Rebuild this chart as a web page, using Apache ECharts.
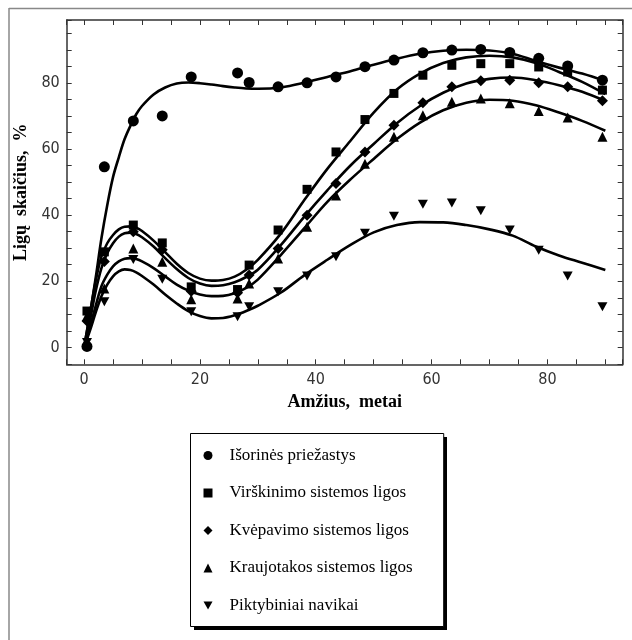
<!DOCTYPE html>
<html>
<head>
<meta charset="utf-8">
<script src="https://cdn.jsdelivr.net/npm/echarts@6/dist/echarts.min.js"></script>
<style>
html,body{margin:0;padding:0;background:#fff;}
#chart{width:632px;height:640px;}
</style>
</head>
<body>
<div id="chart"></div>
<script>
// ---- data ----
var seriesNames = ['Išorinės priežastys', 'Virškinimo sistemos ligos', 'Kvėpavimo sistemos ligos', 'Kraujotakos sistemos ligos', 'Piktybiniai navikai'];
var ages = [0.5, 3.5, 8.5, 13.5, 18.5, 26.5, 28.5, 33.5, 38.5, 43.5, 48.5, 53.5, 58.5, 63.5, 68.5, 73.5, 78.5, 83.5, 89.5];
var isorines   = [0.3, 54.6, 68.5, 70.0, 81.8, 83.0, 80.1, 78.8, 80.0, 81.8, 84.9, 86.9, 89.1, 89.9, 90.1, 89.2, 87.4, 85.1, 80.8];
var virskinimo = [11.0, 28.9, 37.0, 31.6, 18.3, 17.5, 24.9, 35.5, 47.8, 59.1, 68.9, 76.8, 82.3, 85.3, 85.8, 85.8, 84.8, 83.3, 77.8];
var kvepavimo  = [8.0, 26.0, 35.0, 29.5, 17.0, 16.5, 21.9, 29.9, 40.0, 49.6, 59.1, 67.2, 74.0, 78.8, 80.6, 80.8, 80.0, 78.8, 74.6];
var kraujotakos= [9.5, 17.8, 29.9, 25.9, 14.6, 14.8, 19.3, 26.9, 36.5, 45.9, 55.5, 63.7, 70.2, 74.3, 75.3, 73.8, 71.5, 69.5, 63.7];
var navikai    = [1.5, 13.8, 26.6, 20.6, 10.8, 9.3, 12.3, 16.8, 21.6, 27.4, 34.5, 39.7, 43.3, 43.7, 41.3, 35.5, 29.4, 21.6, 12.3];

// fitted curves
var fitAges = [0,1,2,3,4,5,6,7,8,9,10,12,14,16,18,20,22,24,26,28,30,34,38,42,46,50,54,58,62,66,70,74,78,82,86,90];
var fitIsorines   = [0,10,21,33,43,51.5,57.5,63,67,70.5,73,76.5,78.6,79.8,80.1,79.9,79.5,79,78.6,78.3,78.2,78.6,80,81.8,83.5,85.5,87.3,88.8,89.7,90,89.8,88.8,86.6,84.6,82.8,80.5];
var fitVirskinimo = [0,10,20,27.5,31.5,34,35.7,36.5,36.6,36.2,35.2,32.3,28.8,25.3,22.5,20.8,20.2,20.4,21.4,23.5,26.5,34.5,44.5,54,62.5,71,78,82.8,86,87.7,88.2,87.7,86,83.3,80.3,76.6];
var fitKvepavimo  = [0,8,17,24,28.5,31.5,33.5,34.5,34.7,34.3,33.3,30.5,27,23.7,21,19.3,18.6,18.8,19.7,21.3,23.5,31,39.5,47.5,55,61.5,67.8,73,77,79.8,81.2,81.6,80.8,79.3,77.3,74.5];
var fitKraujotakos= [0,6,12.5,18.5,22,24.5,26,26.8,27,26.7,26,24,21.5,19,17.2,16,15.5,15.6,16.4,18,20.5,28,36,44,50.8,57,63,68,71.7,74,74.9,74.6,73.2,71,68.5,65.5];
var fitNavikai    = [0,5,10.5,15.5,19,21.5,23,23.6,23.4,22.7,21.6,19,16,13.3,11,9.5,8.8,8.9,9.7,11,12.6,16.6,21.8,26.5,31,34.8,37,37.9,37.8,37,35.7,33.8,30.5,27.8,25.6,23.4];

var xTitle = 'Amžius,  metai';
var yTitle = 'Ligų  skaičius,  %';

// ---- build ----
function pairs(xs, ys){ return xs.map(function(x,i){ return [x, ys[i]]; }); }
var markerVals = [isorines, virskinimo, kvepavimo, kraujotakos, navikai];
var fitVals = [fitIsorines, fitVirskinimo, fitKvepavimo, fitKraujotakos, fitNavikai];
var downTri = 'path://M0,0L10,0L5,9Z';
var symbols = ['circle','rect','diamond','triangle', downTri];
var symSizes = [11, 9, 11, 10, [10, 9]];
var legendIcons = ['circle','rect','diamond','triangle', downTri];

var tickFont = "'Liberation Sans Narrow','DejaVu Sans Condensed','Liberation Sans',sans-serif";
var serif = "'Liberation Serif','Times New Roman',serif";

function fmt(v){ return (Math.abs(v % 20) < 1e-9) ? String(v) : ''; }
function xAxisCfg(pos, showLabel){
  return {
    type:'value', position:pos, min:-3, max:93, splitNumber:5,
    name: showLabel ? xTitle : '', nameLocation:'middle', nameGap:25,
    nameTextStyle:{fontFamily:serif, fontSize:18, fontWeight:'bold', color:'#000'},
    axisLine:{show:true, onZero:false, lineStyle:{color:'#333', width:1.5}},
    axisTick:{show:true, inside:true, length:5, lineStyle:{color:'#333', width:1}},
    minorTick:{show:true, splitNumber:4, length:5, lineStyle:{color:'#333', width:1}},
    splitLine:{show:false},
    axisLabel:{show:showLabel, margin:8, fontFamily:tickFont, fontSize:16, color:'#333', formatter:fmt}
  };
}
function yAxisCfg(pos, showLabel){
  return {
    type:'value', position:pos, min:-5.1, max:99, splitNumber:5,
    name: showLabel ? yTitle : '', nameLocation:'middle', nameGap:35, nameRotate:90,
    nameTextStyle:{fontFamily:serif, fontSize:18, fontWeight:'bold', color:'#000'},
    axisLine:{show:true, onZero:false, lineStyle:{color:'#333', width:1.5}},
    axisTick:{show:true, inside:true, length:5, lineStyle:{color:'#333', width:1}},
    minorTick:{show:true, splitNumber:4, length:5, lineStyle:{color:'#333', width:1}},
    splitLine:{show:false},
    axisLabel:{show:showLabel, margin:7, fontFamily:tickFont, fontSize:16, color:'#333', formatter:fmt}
  };
}

var series = [];
for (var i=0;i<5;i++){
  series.push({
    type:'line', name:'fit'+i, data:pairs(fitAges, fitVals[i]),
    smooth:0.35, showSymbol:false, symbol:'none', silent:true, z:2,
    lineStyle:{color:'#000', width:2.6}
  });
}
for (var j=0;j<5;j++){
  series.push({
    type:'scatter', name:seriesNames[j], data:pairs(ages, markerVals[j]),
    symbol:symbols[j], symbolSize:symSizes[j], z:3, silent:true,
    itemStyle:{color:'#000', opacity:1}
  });
}

var chart = echarts.init(document.getElementById('chart'), null, {renderer:'canvas'});
chart.setOption({
  animation:false,
  backgroundColor:'#fff',
  grid:{left:66.7, top:20, right:9.3, bottom:275.7, containLabel:false},
  xAxis:[xAxisCfg('bottom', true), xAxisCfg('top', false)],
  yAxis:[yAxisCfg('left', true), yAxisCfg('right', false)],
  legend:{
    data:seriesNames.map(function(n,k){ return {name:n, icon:legendIcons[k]}; }),
    orient:'vertical', left:190.5, top:433.5, z:5,
    padding:[13, 31, 12, 13], itemWidth:9, itemHeight:9, itemGap:19.5,
    selectedMode:false,
    itemStyle:{color:'#000', opacity:1},
    textStyle:{fontFamily:serif, fontSize:17, lineHeight:18, color:'#000', padding:[0,0,0,12]},
    backgroundColor:'#fff', borderColor:'#000', borderWidth:1
  },
  graphic:[
    {type:'line', shape:{x1:9, y1:8.5, x2:632, y2:8.5}, style:{stroke:'#888', lineWidth:1.5}, silent:true},
    {type:'line', shape:{x1:9, y1:8, x2:9, y2:640}, style:{stroke:'#888', lineWidth:1.5}, silent:true},
    {type:'rect', z:1, silent:true, shape:{x:194, y:437, width:253, height:193}, style:{fill:'#000'}}
  ],
  series:series
});
</script>
</body>
</html>
